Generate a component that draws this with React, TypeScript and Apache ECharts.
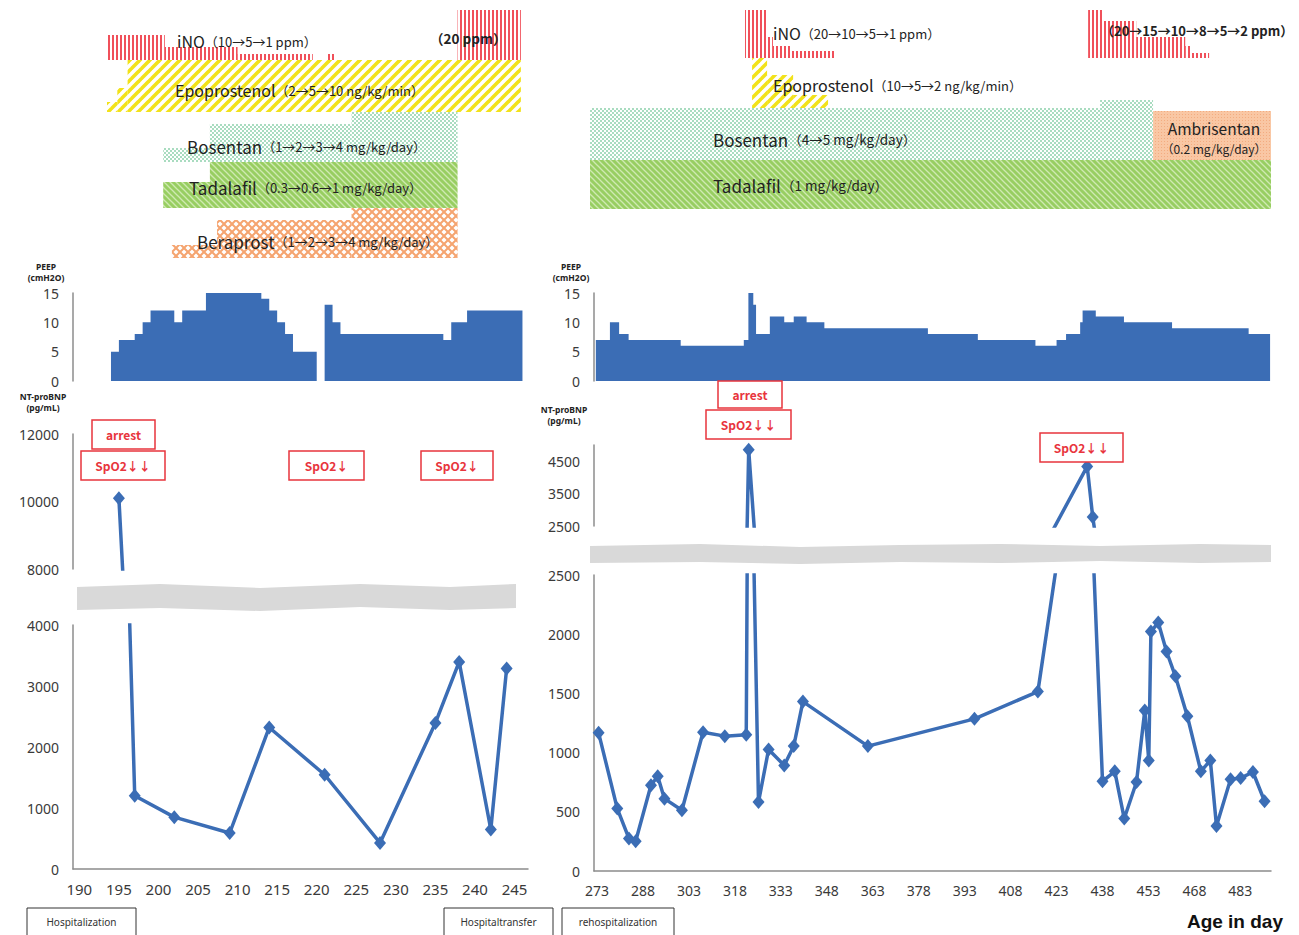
import React, { useEffect, useRef } from "react";
import * as echarts from "echarts";

// ---------- DATA ----------
// x tick labels (age in days)
const leftXTicks = [190, 195, 200, 205, 210, 215, 220, 225, 230, 235, 240, 245];
const rightXTicks = [273, 288, 303, 318, 333, 348, 363, 378, 393, 408, 423, 438, 453, 468, 483];
const rightUpperYTicks = [2500, 3500, 4500];

// NT-proBNP (pg/mL)
const leftBnpDays = [195, 197, 202, 209, 214, 221, 228, 235, 238, 242, 244];
const leftBnp = [10100, 1200, 850, 590, 2320, 1545, 427, 2395, 3395, 647, 3288];
const rightBnpDays = [273.5, 279.6, 283.4, 285.6, 290.6, 292.8, 295, 300.7, 307.6, 314.7, 321.7, 322.5, 325.7, 329, 334.1, 337.2, 340.2, 361.4, 396.2, 416.9, 433, 434.8, 438, 442, 445.1, 449.1, 451.8, 453.1, 453.8, 456.2, 458.9, 461.8, 465.7, 470.1, 473.2, 475.2, 479.8, 483.1, 487.1, 490.9];
const rightBnp = [1167, 527, 275, 252, 724, 800, 611, 513, 1172, 1139, 1150, 4850, 583, 1027, 892, 1055, 1431, 1055, 1285, 1515, 4340, 2780, 757, 842, 443, 752, 1355, 934, 2022, 2098, 1854, 1644, 1307, 842, 934, 381, 774, 785, 836, 589];

// PEEP (cmH2O) steps: [start day, value]
const leftPeepA = [[194, 5], [195, 7], [197, 8], [198, 10], [199, 12], [202, 10], [203, 12], [206, 15], [213, 14], [214, 12], [215, 10], [216, 8], [217, 5], [220, 5]];
const leftPeepB = [[221, 13], [222, 10], [223, 8], [236, 7], [237, 10], [239, 12], [246, 12]];
const rightPeep = [[272.6, 7], [277.2, 10], [280.2, 8], [283.3, 7], [300.3, 6], [320.9, 7], [322.4, 15], [324, 13], [324.9, 8], [329.4, 11], [334.1, 10], [337.2, 11], [341.4, 10], [347.2, 9], [381, 8], [397.3, 7], [416.1, 6], [423, 7], [426.1, 8], [430.7, 10], [431.5, 12], [435.8, 11], [445, 10], [460.7, 9], [485.7, 8], [492.7, 8]];

// Drugs: [start day, end day, dose]
const leftINO = [[193.5, 200.8, 10], [200.8, 210, 5], [210, 219.5, 1], [221.2, 222.3, 1], [237.8, 245.8, 20]];
const leftEpo = [[193.5, 194.8, 2], [194.8, 196.1, 5], [196.1, 245.8, 10]];
const leftBos = [[200.6, 206.5, 1], [206.5, 224.4, 2], [224.4, 237.8, 4]];
const leftTad = [[200.6, 206.5, 0.3], [206.5, 237.8, 1]];
const leftBer = [[201.7, 207.4, 1], [207.4, 224.4, 2], [224.4, 237.8, 4]];
const rightINO = [[321.3, 328.2, 20], [328.2, 330.4, 10], [330.4, 336, 5], [336, 350.7, 1], [433.3, 437.9, 20], [437.9, 449, 15], [449, 465, 10], [465, 467.2, 8], [467.2, 472.8, 2]];
const rightEpo = [[323.6, 328.5, 10], [328.5, 337, 5], [337, 348.4, 2]];
const rightBos = [[270.7, 437.2, 4], [437.2, 454.5, 5]];
const rightAmb = [[454.5, 493, 0.2]];
const rightTad = [[270.7, 493, 1]];

// ---------- STYLE / LAYOUT ----------
const BLUE = "#3B6DB5";
const RED = "#E8353D";
const AXIS = "#8C8C8C";
const LBL = "#3a3a3a";
const JP = "'Noto Sans CJK JP', 'Noto Sans', sans-serif";
const NS = "'Noto Sans', sans-serif";

const L = { left: 73, width: 455, min: 189.2, max: 246.7 };
const R = { left: 594, width: 677, min: 272, max: 493 };

function makePattern(w: number, h: number, draw: (c: CanvasRenderingContext2D) => void) {
  const c = document.createElement("canvas");
  c.width = w;
  c.height = h;
  const ctx = c.getContext("2d") as CanvasRenderingContext2D;
  draw(ctx);
  return { image: c, repeat: "repeat", imageWidth: w, imageHeight: h };
}

function diag(ctx: CanvasRenderingContext2D, w: number, up: boolean) {
  for (let k = -1; k <= 1; k++) {
    ctx.beginPath();
    if (up) {
      ctx.moveTo(k * w - 1, w + 1);
      ctx.lineTo(k * w + w + 1, -1);
    } else {
      ctx.moveTo(k * w - 1, -1);
      ctx.lineTo(k * w + w + 1, w + 1);
    }
    ctx.stroke();
  }
}

export default function App() {
  const ref = useRef<HTMLDivElement>(null);
  useEffect(() => {
    document.body.style.margin = "0";
    if (!ref.current) return;
    const chart = echarts.init(ref.current, undefined, { renderer: "svg" });

    const pIno = makePattern(4, 4, (c) => {
      c.fillStyle = "#fff"; c.fillRect(0, 0, 4, 4);
      c.fillStyle = "#F0505A"; c.fillRect(0, 0, 2, 4);
    });
    const pEpo = makePattern(10, 10, (c) => {
      c.fillStyle = "#fff"; c.fillRect(0, 0, 10, 10);
      c.strokeStyle = "#F2E21A"; c.lineWidth = 3.6; diag(c, 10, true);
    });
    const pBos = makePattern(4, 4, (c) => {
      c.fillStyle = "#fff"; c.fillRect(0, 0, 4, 4);
      c.fillStyle = "#A9DCC0"; c.fillRect(0, 0, 2, 2); c.fillRect(2, 2, 2, 2);
    });
    const pTad = makePattern(6, 6, (c) => {
      c.fillStyle = "#98CE62"; c.fillRect(0, 0, 6, 6);
      c.strokeStyle = "#CFE9B2"; c.lineWidth = 1.3; diag(c, 6, false);
    });
    const pBer = makePattern(8, 8, (c) => {
      c.fillStyle = "#fff"; c.fillRect(0, 0, 8, 8);
      c.strokeStyle = "#F5A470"; c.lineWidth = 2; diag(c, 8, true); diag(c, 8, false);
    });
    const pAmb = makePattern(3, 3, (c) => {
      c.fillStyle = "#F9C7A4"; c.fillRect(0, 0, 3, 3);
      c.fillStyle = "#F3AC80"; c.fillRect(0, 0, 1, 1);
    });

    const drug = (data: number[][], idx: number, bottom: number, heights: Record<string, number>, fill: any) => ({
      type: "custom",
      xAxisIndex: idx,
      yAxisIndex: idx,
      data,
      silent: true,
      z: 1,
      encode: { x: [0, 1] },
      renderItem: (_p: any, api: any) => {
        const x0 = api.coord([api.value(0), 0])[0];
        const x1 = api.coord([api.value(1), 0])[0];
        const h = heights[String(api.value(2))] ?? 10;
        const yT = api.coord([0, bottom - h])[1];
        const yB = api.coord([0, bottom])[1];
        return { type: "rect", shape: { x: x0, y: yT, width: x1 - x0, height: yB - yT }, style: { fill } };
      },
    });

    const side = (s: typeof L) => ({ left: s.left, width: s.width });
    const grids = [
      { ...side(L), top: 0, height: 260 },
      { ...side(L), top: 293, height: 88 },
      { ...side(L), top: 434, height: 135 },
      { ...side(L), top: 625, height: 244 },
      { ...side(R), top: 0, height: 260 },
      { ...side(R), top: 293, height: 88 },
      { ...side(R), top: 445, height: 81 },
      { ...side(R), top: 575, height: 296 },
    ];

    const plain = (v: number) => String(v);
    const xa = (i: number, s: typeof L, ticks: number[] | null, fs: number) => ({
      type: "value",
      gridIndex: i,
      min: s.min,
      max: s.max,
      show: !!ticks,
      axisLine: { show: true, lineStyle: { color: AXIS, width: 1.5 } },
      axisTick: { show: false },
      splitLine: { show: false },
      axisLabel: ticks
        ? { customValues: ticks, formatter: plain, color: LBL, fontSize: fs, fontFamily: NS, margin: 12 }
        : { show: false },
    });
    const ya = (i: number, min: number, max: number, interval: number | null, fs: number, custom?: number[]) => ({
      type: "value",
      gridIndex: i,
      min,
      max,
      ...(interval ? { interval } : {}),
      axisLine: { show: true, lineStyle: { color: AXIS, width: 1.5 } },
      axisTick: { show: false },
      splitLine: { show: false },
      axisLabel: { formatter: plain, color: LBL, fontSize: fs, fontFamily: NS, margin: 14, ...(custom ? { customValues: custom } : {}) },
    });
    const hiddenY = (i: number) => ({ type: "value", gridIndex: i, min: 0, max: 260, inverse: true, show: false, splitLine: { show: false } });

    const xAxis = [
      xa(0, L, null, 15), xa(1, L, null, 15), xa(2, L, null, 15), xa(3, L, leftXTicks, 15),
      xa(4, R, null, 14), xa(5, R, null, 14), xa(6, R, null, 14), xa(7, R, rightXTicks, 14),
    ];

    const yAxis = [
      hiddenY(0),
      ya(1, 0, 15, 5, 14),
      ya(2, 8000, 12000, 2000, 14),
      ya(3, 0, 4000, 1000, 14),
      hiddenY(4),
      ya(5, 0, 15, 5, 14),
      ya(6, 2500, 5000, null, 14, rightUpperYTicks),
      ya(7, 0, 2500, 500, 14),
    ];

    const leftPairs = leftBnpDays.map((d, i) => [d, leftBnp[i]]);
    const rightPairs = rightBnpDays.map((d, i) => [d, rightBnp[i]]);
    const bnpLine = (idx: number, data: number[][]) => ({
      type: "line",
      xAxisIndex: idx,
      yAxisIndex: idx,
      data,
      clip: true,
      symbol: "diamond",
      symbolSize: [12, 14],
      lineStyle: { color: BLUE, width: 3.5 },
      itemStyle: { color: BLUE },
      silent: true,
    });
    const peep = (idx: number, data: number[][]) => ({
      type: "line",
      xAxisIndex: idx,
      yAxisIndex: idx,
      data,
      step: "end",
      symbol: "none",
      lineStyle: { width: 0 },
      areaStyle: { color: BLUE, opacity: 1 },
      silent: true,
    });

    const series: any[] = [
      drug(leftINO, 0, 60, { 20: 50, 10: 25, 5: 13, 1: 6 }, pIno),
      drug(leftEpo, 0, 112, { 10: 52, 5: 24, 2: 10 }, pEpo),
      drug(leftBos, 0, 162, { 1: 14, 2: 38, 4: 50 }, pBos),
      drug(leftTad, 0, 208, { 0.3: 26, 1: 46 }, pTad),
      drug(leftBer, 0, 258, { 1: 13, 2: 38, 4: 50 }, pBer),
      drug(rightBos, 4, 160, { 4: 52, 5: 60 }, pBos),
      drug(rightAmb, 4, 160, { 0.2: 49 }, pAmb),
      drug(rightTad, 4, 209, { 1: 49 }, pTad),
      drug(rightEpo, 4, 108, { 10: 50, 5: 33, 2: 13 }, pEpo),
      drug(rightINO, 4, 58, { 20: 48, 15: 37, 10: 21, 8: 12, 5: 12, 2: 5, 1: 7 }, pIno),
      peep(1, leftPeepA),
      peep(1, leftPeepB),
      peep(5, rightPeep),
      bnpLine(2, leftPairs),
      bnpLine(3, leftPairs),
      bnpLine(6, rightPairs),
      bnpLine(7, rightPairs),
    ];

    const rich = (name: string, rest: string, x: number, y: number, fs = 16, rs = 13) => ({
      type: "text",
      x,
      y,
      z: 100,
      silent: true,
      style: {
        text: `{a|${name}}{b|${rest}}`,
        verticalAlign: "middle",
        rich: {
          a: { fontSize: fs, fontFamily: JP, fill: "#222" },
          b: { fontSize: rs, fontFamily: JP, fill: "#222" },
        },
      },
    });
    const txt = (t: string, x: number, y: number, o: any = {}) => ({
      type: "text",
      x,
      y,
      z: 100,
      silent: true,
      style: { text: t, fill: "#222", fontFamily: JP, fontSize: 13, align: "left", verticalAlign: "middle", ...o },
    });
    const evBox = (t: string, x: number, y: number, w: number, h: number) => ({
      type: "group",
      silent: true,
      z: 100,
      children: [
        { type: "rect", z: 100, shape: { x, y, width: w, height: h }, style: { fill: "#fff", stroke: RED, lineWidth: 1.5 } },
        { type: "text", z: 101, x: x + w / 2, y: y + h / 2, style: { text: t, fill: RED, fontSize: 12, fontFamily: JP, fontWeight: "bold", align: "center", verticalAlign: "middle" } },
      ],
    });
    const hospBox = (t: string, x: number, w: number) => ({
      type: "group",
      silent: true,
      z: 100,
      children: [
        { type: "rect", z: 100, shape: { x, y: 908, width: w, height: 30 }, style: { fill: "#fff", stroke: "#333", lineWidth: 1 } },
        { type: "text", z: 101, x: x + w / 2, y: 922, style: { text: t, fill: "#333", fontSize: 10, fontFamily: NS, align: "center", verticalAlign: "middle" } },
      ],
    });
    const axisName = (a: string, b: string, cx: number, y: number) => ({
      type: "group",
      silent: true,
      z: 100,
      children: [
        { type: "text", z: 100, x: cx, y, style: { text: a, fill: "#222", fontSize: 8.5, fontWeight: "bold", fontFamily: NS, align: "center", verticalAlign: "middle" } },
        { type: "text", z: 100, x: cx, y: y + 11, style: { text: b, fill: "#222", fontSize: 8.5, fontWeight: "bold", fontFamily: NS, align: "center", verticalAlign: "middle" } },
      ],
    });

    const graphic: any[] = [
      // break bands
      {
        type: "polygon",
        silent: true,
        z: 50,
        shape: { points: [[77, 587], [160, 584], [260, 588], [360, 584], [450, 587], [516, 584], [516, 608], [450, 610], [360, 607], [260, 611], [160, 608], [77, 610]] },
        style: { fill: "#D9D9D9" },
      },
      {
        type: "polygon",
        silent: true,
        z: 50,
        shape: { points: [[590, 546], [700, 544], [800, 547], [900, 545], [1000, 544], [1100, 546], [1200, 544], [1271, 545], [1271, 562], [1200, 563], [1100, 561], [1000, 563], [900, 562], [800, 564], [700, 562], [590, 563]] },
        style: { fill: "#D9D9D9" },
      },
      // drug labels left
      rich("iNO", "（10→5→1 ppm）", 177, 41),
      txt("（20 ppm）", 430, 38, { fontSize: 13.5, fontWeight: "bold" }),
      rich("Epoprostenol", "（2→5→10 ng/kg/min）", 175, 90),
      rich("Bosentan", "（1→2→3→4 mg/kg/day）", 187, 146, 17, 13),
      rich("Tadalafil", "（0.3→0.6→1 mg/kg/day）", 189, 187, 17, 13),
      rich("Beraprost", "（1→2→3→4 mg/kg/day）", 197, 241, 17, 13),
      // drug labels right
      rich("iNO", "（20→10→5→1 ppm）", 773, 33),
      txt("（20→15→10→8→5→2 ppm）", 1101, 30, { fontSize: 13, fontWeight: "bold" }),
      rich("Epoprostenol", "（10→5→2 ng/kg/min）", 773, 85),
      rich("Bosentan", "（4→5 mg/kg/day）", 713, 139, 17, 13.5),
      rich("Tadalafil", "（1 mg/kg/day）", 713, 185, 17, 13.5),
      txt("Ambrisentan", 1214, 128, { fontSize: 15.5, align: "center" }),
      txt("（0.2 mg/kg/day）", 1214, 148, { fontSize: 12, align: "center" }),
      // axis names
      axisName("PEEP", "(cmH2O)", 46, 266),
      axisName("PEEP", "(cmH2O)", 571, 266),
      axisName("NT-proBNP", "(pg/mL)", 43, 396),
      axisName("NT-proBNP", "(pg/mL)", 564, 409),
      // events
      evBox("arrest", 92, 420, 63, 29),
      evBox("SpO2↓↓", 81, 451, 84, 29),
      evBox("SpO2↓", 289, 451, 75, 29),
      evBox("SpO2↓", 421, 451, 72, 29),
      evBox("arrest", 718, 381, 64, 27),
      evBox("SpO2↓↓", 706, 410, 85, 29),
      evBox("SpO2↓↓", 1040, 433, 83, 29),
      // hospital stays
      hospBox("Hospitalization", 27, 109),
      hospBox("Hospitaltransfer", 444, 109),
      hospBox("rehospitalization", 562, 112),
      {
        type: "text",
        x: 1283,
        y: 921,
        z: 100,
        silent: true,
        style: { text: "Age in day", fill: "#111", fontSize: 19, fontWeight: "bold", fontFamily: "'Liberation Sans', Arial, sans-serif", align: "right", verticalAlign: "middle" },
      },
    ];

    chart.setOption({
      animation: false,
      backgroundColor: "#fff",
      grid: grids,
      xAxis,
      yAxis,
      series,
      graphic,
    });
    return () => chart.dispose();
  }, []);
  return <div ref={ref} style={{ width: 1299, height: 935 }} />;
}
